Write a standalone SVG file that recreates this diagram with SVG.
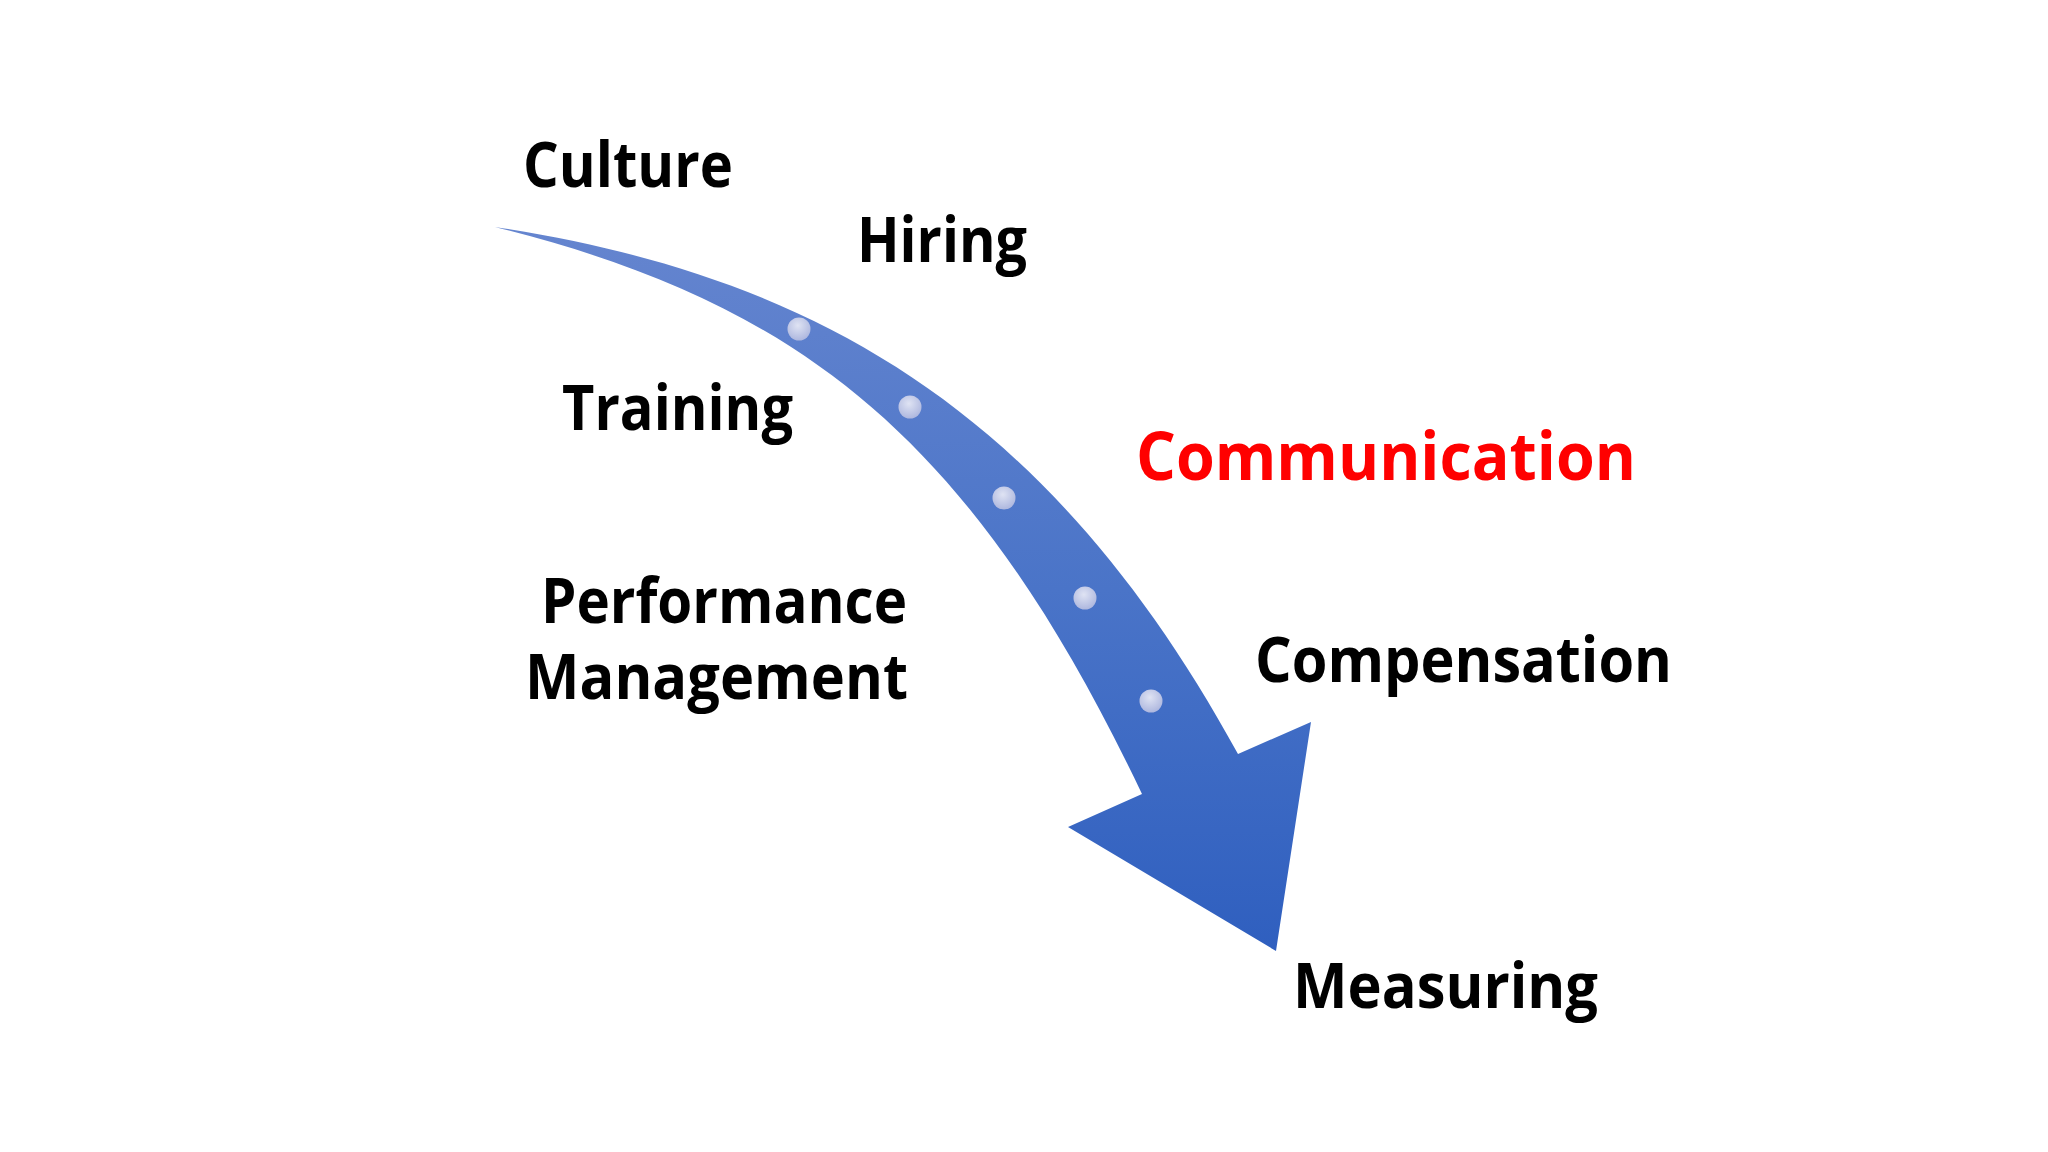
<svg xmlns="http://www.w3.org/2000/svg" width="2048" height="1152" viewBox="0 0 2048 1152">
  <defs>
    <linearGradient id="arrowGrad" gradientUnits="userSpaceOnUse" x1="0" y1="227" x2="0" y2="951">
      <stop offset="0" stop-color="#6585cf"/>
      <stop offset="0.5" stop-color="#4a74c8"/>
      <stop offset="1" stop-color="#2f5fbf"/>
    </linearGradient>
    <radialGradient id="dotGrad" cx="0.45" cy="0.35" r="0.7">
      <stop offset="0" stop-color="#dfe3f3"/>
      <stop offset="1" stop-color="#aab4dd"/>
    </radialGradient>
    <style>
      .lbl { font-family: "Open Sans", "Noto Sans", "Liberation Sans", sans-serif; font-weight: 700; font-size: 62px; fill: #000000; }
      .hl { fill: #ff0000; font-size: 66px; }
      .dot { fill: url(#dotGrad); }
    </style>
  </defs>
  <rect width="2048" height="1152" fill="#ffffff"/>

  <g id="connectors">
    <g id="arrow">
      <path d="M495,227 C820,276 1053,416 1238,754 L1311,722 L1276,951 L1068,827 L1142,794 C972,437 800,303 495,227 Z" fill="url(#arrowGrad)"/>
      <circle class="dot" cx="799" cy="329" r="11.5"/>
      <circle class="dot" cx="910" cy="407" r="11.5"/>
      <circle class="dot" cx="1004" cy="498" r="11.5"/>
      <circle class="dot" cx="1085" cy="598" r="11.5"/>
      <circle class="dot" cx="1151" cy="701" r="11.5"/>
    </g>
  </g>

  <g id="culture"><text class="lbl" x="523" y="187" textLength="210" lengthAdjust="spacingAndGlyphs">Culture</text></g>
  <g id="hiring"><text class="lbl" x="857" y="262" textLength="170" lengthAdjust="spacingAndGlyphs">Hiring</text></g>
  <g id="training"><text class="lbl" x="562" y="430" textLength="231" lengthAdjust="spacingAndGlyphs">Training</text></g>
  <g id="performance-management">
    <text class="lbl" x="541" y="623" textLength="366" lengthAdjust="spacingAndGlyphs">Performance</text>
    <text class="lbl" x="525" y="699" textLength="383" lengthAdjust="spacingAndGlyphs">Management</text>
  </g>
  <g id="communication"><text class="lbl hl" x="1136" y="480" textLength="500" lengthAdjust="spacingAndGlyphs">Communication</text></g>
  <g id="compensation"><text class="lbl" x="1255" y="682" textLength="417" lengthAdjust="spacingAndGlyphs">Compensation</text></g>
  <g id="measuring"><text class="lbl" x="1293" y="1008" textLength="305" lengthAdjust="spacingAndGlyphs">Measuring</text></g>
</svg>
